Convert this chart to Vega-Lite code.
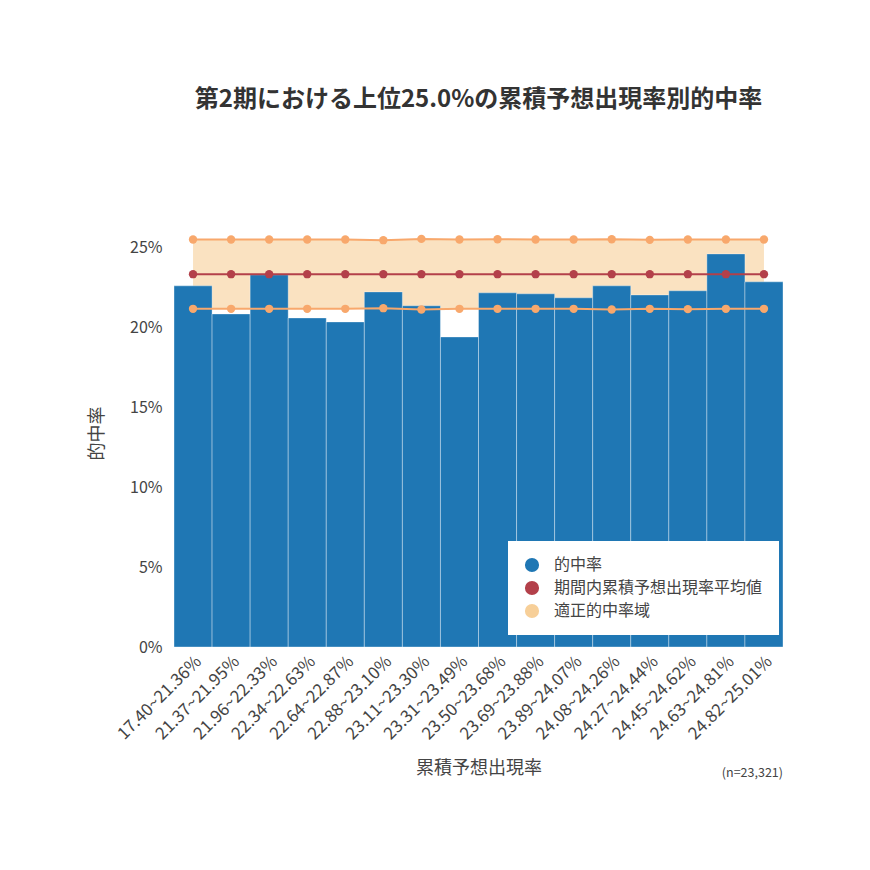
{
  "$schema": "https://vega.github.io/schema/vega-lite/v6.json",
  "autosize": {"type": "none"},
  "width": 609,
  "height": 479,
  "padding": {"left": 174, "top": 168, "right": 87, "bottom": 223},
  "background": "white",
  "config": {
    "font": "Noto Sans CJK JP",
    "view": {"stroke": null},
    "axisY": {
      "labelExpr": "datum.value >= 0.299 ? '' : format(datum.value, '.0%')",
      "domain": false,
      "ticks": false,
      "gridColor": "#eeeeee",
      "labelFontSize": 16,
      "labelColor": "#444444",
      "labelPadding": 12,
      "titleFontSize": 18,
      "titleFontWeight": "normal",
      "titleColor": "#444444",
      "titleX": -77,
      "titleY": 265,
      "titleBaseline": "middle"
    },
    "axisX": {
      "labelAngle": -45,
      "labelFontSize": 17,
      "labelColor": "#444444",
      "labelPadding": 6,
      "ticks": false,
      "domain": false,
      "grid": false,
      "titleFontSize": 18,
      "titleFontWeight": "normal",
      "titleColor": "#444444",
      "titleY": 121,
      "titleBaseline": "middle"
    }
  },
  "title": {
    "text": "第2期における上位25.0%の累積予想出現率別的中率",
    "fontSize": 24,
    "fontWeight": "bold",
    "color": "#333333",
    "anchor": "middle",
    "offset": 56
  },
  "data": {
    "values": [
      {"bin": "17.40~21.36%", "rate": 0.2262, "mean": 0.2335, "upper": 0.2552, "lower": 0.2118},
      {"bin": "21.37~21.95%", "rate": 0.2086, "mean": 0.2335, "upper": 0.2552, "lower": 0.2118},
      {"bin": "21.96~22.33%", "rate": 0.2331, "mean": 0.2335, "upper": 0.2552, "lower": 0.2118},
      {"bin": "22.34~22.63%", "rate": 0.2061, "mean": 0.2335, "upper": 0.2552, "lower": 0.2118},
      {"bin": "22.64~22.87%", "rate": 0.2036, "mean": 0.2335, "upper": 0.2552, "lower": 0.2118},
      {"bin": "22.88~23.10%", "rate": 0.2224, "mean": 0.2335, "upper": 0.2548, "lower": 0.2122},
      {"bin": "23.11~23.30%", "rate": 0.2137, "mean": 0.2335, "upper": 0.2556, "lower": 0.2114},
      {"bin": "23.31~23.49%", "rate": 0.1942, "mean": 0.2335, "upper": 0.2552, "lower": 0.2118},
      {"bin": "23.50~23.68%", "rate": 0.2218, "mean": 0.2335, "upper": 0.2554, "lower": 0.2118},
      {"bin": "23.69~23.88%", "rate": 0.2212, "mean": 0.2335, "upper": 0.2552, "lower": 0.2118},
      {"bin": "23.89~24.07%", "rate": 0.2187, "mean": 0.2335, "upper": 0.2552, "lower": 0.2118},
      {"bin": "24.08~24.26%", "rate": 0.2262, "mean": 0.2335, "upper": 0.2554, "lower": 0.2114},
      {"bin": "24.27~24.44%", "rate": 0.2205, "mean": 0.2335, "upper": 0.2550, "lower": 0.2118},
      {"bin": "24.45~24.62%", "rate": 0.2231, "mean": 0.2335, "upper": 0.2552, "lower": 0.2116},
      {"bin": "24.63~24.81%", "rate": 0.2462, "mean": 0.2335, "upper": 0.2552, "lower": 0.2118},
      {"bin": "24.82~25.01%", "rate": 0.2287, "mean": 0.2335, "upper": 0.2552, "lower": 0.2118}
    ]
  },
  "encoding": {
    "x": {
      "field": "bin",
      "type": "ordinal",
      "sort": null,
      "title": "累積予想出現率",
      "scale": {"paddingInner": 0, "paddingOuter": 0}
    }
  },
  "layer": [
    {
      "data": {"values": [{"s": "的中率"}, {"s": "期間内累積予想出現率平均値"}, {"s": "適正的中率域"}]},
      "mark": {"type": "point", "filled": true, "opacity": 1, "size": 30},
      "encoding": {
        "x": {"datum": "17.40~21.36%", "type": "ordinal", "title": "累積予想出現率"},
        "y": {"datum": 0.05, "type": "quantitative", "title": "的中率"},
        "color": {
          "field": "s",
          "type": "nominal",
          "sort": null,
          "scale": {
            "domain": ["的中率", "期間内累積予想出現率平均値", "適正的中率域"],
            "range": ["#1f77b4", "#b3404a", "#f7cf98"]
          },
          "legend": {
            "orient": "none",
            "legendX": 334,
            "legendY": 373,
            "title": null,
            "fillColor": "white",
            "padding": 16,
            "symbolType": "circle",
            "symbolSize": 200,
            "symbolStrokeWidth": 0,
            "symbolOpacity": 1,
            "labelFontSize": 16,
            "labelColor": "#444444",
            "labelLimit": 400,
            "labelOffset": 14,
            "rowPadding": 7
          }
        }
      }
    },
    {
      "mark": {"type": "area", "color": "#f7cf98", "opacity": 0.6},
      "encoding": {
        "y": {"field": "upper", "type": "quantitative", "title": "的中率"},
        "y2": {"field": "lower"}
      }
    },
    {
      "mark": {"type": "bar", "color": "#1f77b4", "stroke": "#ffffff", "strokeWidth": 0.8, "strokeOpacity": 0.45},
      "encoding": {
        "y": {
          "field": "rate",
          "type": "quantitative",
          "title": "的中率",
          "scale": {"domain": [0, 0.3]},
          "axis": {"values": [0, 0.05, 0.1, 0.15, 0.2, 0.25, 0.3]}
        }
      }
    },
    {
      "mark": {"type": "line", "color": "#f8a86c", "strokeWidth": 2, "point": {"filled": true, "size": 70, "color": "#f8a86c"}},
      "encoding": {"y": {"field": "lower", "type": "quantitative", "title": "的中率"}}
    },
    {
      "mark": {"type": "line", "color": "#f8a86c", "strokeWidth": 2, "point": {"filled": true, "size": 70, "color": "#f8a86c"}},
      "encoding": {"y": {"field": "upper", "type": "quantitative", "title": "的中率"}}
    },
    {
      "mark": {"type": "line", "color": "#b3404a", "strokeWidth": 2, "point": {"filled": true, "size": 70, "color": "#b3404a"}},
      "encoding": {"y": {"field": "mean", "type": "quantitative", "title": "的中率"}}
    },
    {
      "data": {"values": [{"t": "(n=23,321)"}]},
      "mark": {"type": "text", "align": "right", "baseline": "middle", "fontSize": 12.5, "color": "#444444"},
      "encoding": {
        "x": {"datum": "24.82~25.01%", "type": "ordinal", "bandPosition": 1, "title": "累積予想出現率"},
        "y": {"value": 605},
        "text": {"field": "t"}
      }
    }
  ]
}
